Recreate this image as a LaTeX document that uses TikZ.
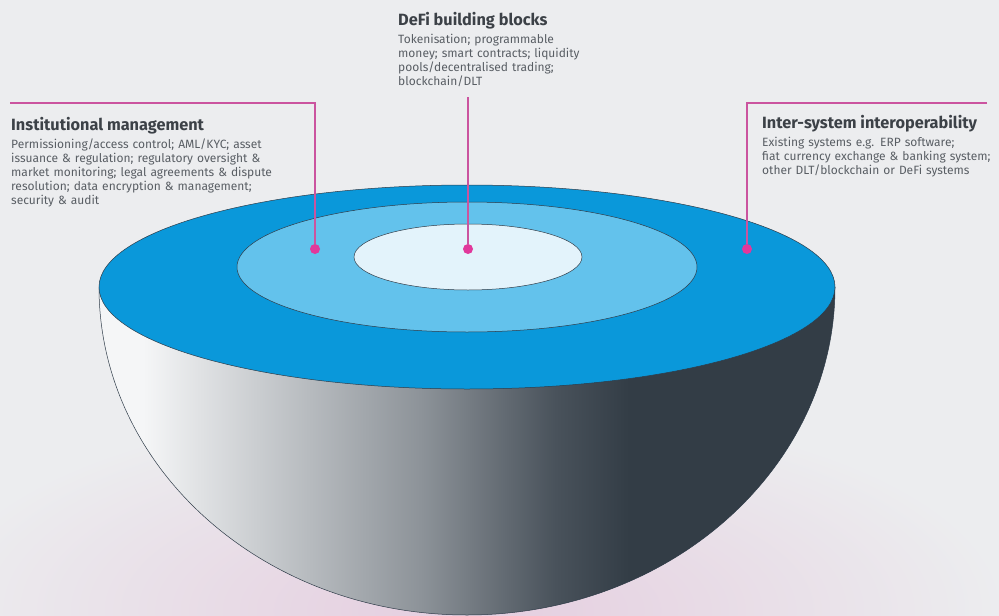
\documentclass[tikz,border=0pt]{standalone}
\usepackage{fontspec}
\setmainfont{Fira Sans}
\usetikzlibrary{positioning}

\definecolor{bgGrey}{HTML}{ECEDEF}
\definecolor{glowPink}{HTML}{E5CDDF}
\definecolor{rimBlue}{HTML}{0A98DA}
\definecolor{midBlue}{HTML}{63C2EC}
\definecolor{coreBlue}{HTML}{E3F3FB}
\definecolor{edgeDark}{HTML}{2E3B48}
\definecolor{leadPink}{HTML}{CB549F}
\definecolor{dotPink}{HTML}{E1389B}
\definecolor{titleGrey}{HTML}{3C4147}
\definecolor{bodyGrey}{HTML}{595E64}
\definecolor{bowlA}{HTML}{F5F6F7}
\definecolor{bowlB}{HTML}{8C9298}
\definecolor{bowlC}{HTML}{49525B}
\definecolor{bowlD}{HTML}{333D46}
\pgfdeclarehorizontalshading{bowlshade}{100bp}{color(0bp)=(bowlA); color(28bp)=(bowlA); color(47bp)=(bowlB); color(56bp)=(bowlC); color(61bp)=(bowlD); color(100bp)=(bowlD)}

\begin{document}
\begin{tikzpicture}[x=1pt, y=-1pt,
  head/.style = {inner sep=0pt, anchor=base west, font=\fontsize{16.3}{18}\selectfont\bfseries, text=titleGrey},
  body/.style = {inner sep=0pt, anchor=base west, align=left, font=\fontsize{12}{14.1}\selectfont, text=bodyGrey},
  lead/.style = {draw=leadPink, line width=1.1pt},
  dot/.style = {circle, fill=dotPink, minimum size=10pt, inner sep=0pt},
  disc/.style = {draw=edgeDark, line width=0.5pt}]
\useasboundingbox (0,0) rectangle (999,616);
\fill[bgGrey] (0,0) rectangle (999,616);
\begin{scope}
\clip (0,0) rectangle (999,616);
\shade[inner color=glowPink, outer color=bgGrey] (467,610) ellipse [x radius=540, y radius=210];
\end{scope}

% bowl and top faces
\shade[shading=bowlshade, disc] (99,287) arc [start angle=180, end angle=0, x radius=368, y radius=328] -- cycle;
\filldraw[disc, fill=rimBlue] (467,287) ellipse [x radius=368, y radius=102];
\filldraw[disc, fill=midBlue] (467,267) ellipse [x radius=230, y radius=65];
\filldraw[disc, fill=coreBlue] (468,257) ellipse [x radius=114, y radius=33];

\node[dot] (instDot) at (315,249) {};
\node[dot] (defiDot) at (468,249) {};
\node[dot] (interDot) at (747,249) {};

\node[head] (instHead) at (11,130) {Institutional management};
\node[below right=18pt and 0pt of instHead.base west, body, text width=290pt] (instBody) {Permissioning/access control; AML/KYC; asset\\issuance \& regulation; regulatory oversight \&\\market monitoring; legal agreements \& dispute\\resolution; data encryption \& management;\\security \& audit};
\node[head] (defiHead) at (398,25) {DeFi building blocks};
\node[below right=18pt and 0pt of defiHead.base west, body, text width=220pt] (defiBody) {Tokenisation; programmable\\money; smart contracts; liquidity\\pools/decentralised trading;\\blockchain/DLT};
\node[head] (interHead) at (762,128) {Inter-system interoperability};
\node[below right=18pt and 0pt of interHead.base west, body, text width=260pt] (interBody) {Existing systems e.g. ERP software;\\fiat currency exchange \& banking system;\\other DLT/blockchain or DeFi systems};

\coordinate (instEnd) at (10,103);
\coordinate (defiEnd) at (468,97);
\coordinate (interEnd) at (987,103);
\draw[lead] (instEnd) -| (instDot);
\draw[lead] (defiEnd) -- (defiDot);
\draw[lead] (interEnd) -| (interDot);
\end{tikzpicture}
\end{document}
